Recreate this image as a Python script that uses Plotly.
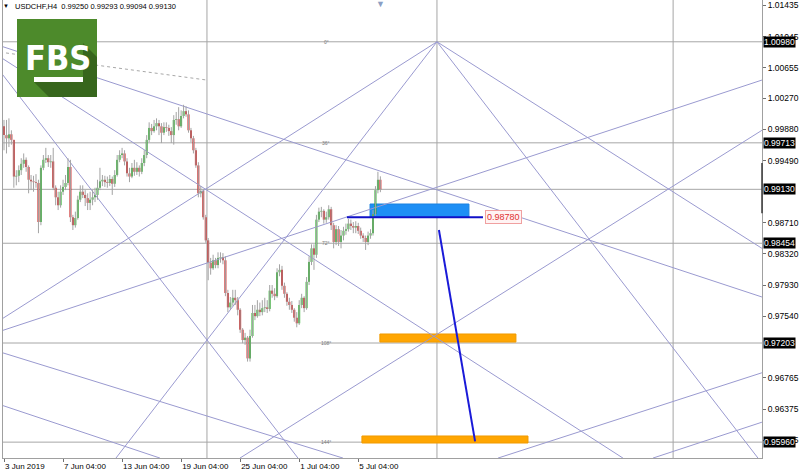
import plotly.graph_objects as go

# ---------------- data ----------------
symbol_title = "USDCHF,H4  0.99250 0.99293 0.99094 0.99130"
first_open = 0.9992
closes = [
    0.9981, 0.9977, 0.9982, 0.9975, 0.9929, 0.9930, 0.9937, 0.9945, 0.9950, 0.9941,
    0.9925, 0.9923, 0.9922, 0.9921, 0.9872, 0.9940, 0.9950, 0.9952, 0.9947, 0.9948,
    0.9915, 0.9903, 0.9893, 0.9910, 0.9916, 0.9921, 0.9941, 0.9878, 0.9868, 0.9877,
    0.9900, 0.9910, 0.9906, 0.9902, 0.9896, 0.9900, 0.9903, 0.9906, 0.9915, 0.9923,
    0.9925, 0.9922, 0.9921, 0.9926, 0.9920, 0.9931, 0.9950, 0.9956, 0.9958, 0.9948,
    0.9933, 0.9929, 0.9940, 0.9935, 0.9940, 0.9935, 0.9946, 0.9956, 0.9975, 0.9990,
    0.9986, 0.9992, 0.9996, 0.9992, 0.9984, 0.9991, 0.9990, 0.9986, 0.9981, 1.0000,
    1.0001, 0.9992, 1.0005, 1.0011, 1.0007, 0.9987, 0.9977, 0.9962, 0.9943, 0.9908,
    0.9911, 0.9878, 0.9849, 0.9821, 0.9814, 0.9824, 0.9818, 0.9827, 0.9828, 0.9824,
    0.9783, 0.9765, 0.9771, 0.9777, 0.9774, 0.9762, 0.9737, 0.9724, 0.9727, 0.9701,
    0.9729, 0.9758, 0.9754, 0.9762, 0.9759, 0.9764, 0.9765, 0.9763, 0.9786, 0.9782,
    0.9779, 0.9809, 0.9812, 0.9792, 0.9782, 0.9772, 0.9768, 0.9762, 0.9752, 0.9745,
    0.9768, 0.9777, 0.9764, 0.9797, 0.9822, 0.9839, 0.9831, 0.9875, 0.9885, 0.9886,
    0.9875, 0.9878, 0.9888, 0.9868, 0.9847, 0.9863, 0.9847, 0.9855, 0.9861, 0.9863,
    0.9870, 0.9867, 0.9865, 0.9867, 0.9861, 0.9855, 0.9852, 0.9847, 0.9855, 0.9858,
    0.9882, 0.9912, 0.9925, 0.99130,
]
highs = [
    1.0000, 1.0000, 1.0002, 0.9987, 0.9975, 0.9937, 0.9943, 0.9952, 0.9958, 0.9953,
    0.9943, 0.9931, 0.9930, 0.9932, 0.9925, 0.9943, 0.9956, 0.9965, 0.9956, 0.9956,
    0.9965, 0.9918, 0.9910, 0.9918, 0.9925, 0.9931, 0.9952, 0.9950, 0.9881, 0.9885,
    0.9905, 0.9918, 0.9918, 0.9912, 0.9908, 0.9910, 0.9912, 0.9915, 0.9925, 0.9940,
    0.9931, 0.9930, 0.9929, 0.9931, 0.9929, 0.9937, 0.9956, 0.9962, 0.9965, 0.9962,
    0.9952, 0.9940, 0.9946, 0.9950, 0.9947, 0.9943, 0.9952, 0.9962, 0.9981, 0.9997,
    0.9995, 1.0000, 1.0002, 1.0000, 0.9996, 0.9997, 0.9997, 0.9994, 0.9991, 1.0006,
    1.0010, 1.0016, 1.0012, 1.0019, 1.0017, 1.0012, 0.9990, 0.9980, 0.9965, 0.9947,
    0.9917, 0.9913, 0.9881, 0.9852, 0.9827, 0.9831, 0.9827, 0.9834, 0.9834, 0.9833,
    0.9829, 0.9787, 0.9778, 0.9787, 0.9787, 0.9778, 0.9764, 0.9739, 0.9733, 0.9729,
    0.9737, 0.9768, 0.9768, 0.9774, 0.9771, 0.9774, 0.9777, 0.9774, 0.9793, 0.9793,
    0.9789, 0.9814, 0.9819, 0.9817, 0.9796, 0.9784, 0.9777, 0.9773, 0.9764, 0.9759,
    0.9774, 0.9782, 0.9779, 0.9803, 0.9829, 0.9844, 0.9844, 0.9881, 0.9890, 0.9891,
    0.9888, 0.9885, 0.9893, 0.9891, 0.9871, 0.9868, 0.9867, 0.9862, 0.9866, 0.9870,
    0.9876, 0.9875, 0.9872, 0.9873, 0.9871, 0.9865, 0.9858, 0.9855, 0.9860, 0.9863,
    0.9887, 0.9917, 0.9935, 0.99293,
]
lows = [
    0.9962, 0.9958, 0.9966, 0.9969, 0.9915, 0.9918, 0.9922, 0.9931, 0.9940, 0.9935,
    0.9908, 0.9912, 0.9910, 0.9915, 0.9858, 0.9868, 0.9937, 0.9946, 0.9941, 0.9940,
    0.9912, 0.9893, 0.9887, 0.9890, 0.9906, 0.9912, 0.9918, 0.9872, 0.9862, 0.9865,
    0.9875, 0.9897, 0.9902, 0.9892, 0.9887, 0.9887, 0.9893, 0.9897, 0.9900, 0.9912,
    0.9917, 0.9916, 0.9915, 0.9917, 0.9906, 0.9916, 0.9929, 0.9947, 0.9952, 0.9943,
    0.9929, 0.9922, 0.9927, 0.9930, 0.9931, 0.9929, 0.9932, 0.9942, 0.9952, 0.9972,
    0.9981, 0.9984, 0.9987, 0.9981, 0.9971, 0.9981, 0.9985, 0.9980, 0.9971, 0.9969,
    0.9994, 0.9987, 0.9990, 1.0002, 1.0004, 0.9984, 0.9972, 0.9958, 0.9940, 0.9903,
    0.9903, 0.9875, 0.9846, 0.9799, 0.9806, 0.9812, 0.9814, 0.9814, 0.9821, 0.9819,
    0.9779, 0.9759, 0.9762, 0.9767, 0.9768, 0.9755, 0.9733, 0.9720, 0.9718, 0.9697,
    0.9697, 0.9727, 0.9749, 0.9752, 0.9754, 0.9755, 0.9759, 0.9758, 0.9760, 0.9777,
    0.9774, 0.9777, 0.9804, 0.9787, 0.9777, 0.9767, 0.9762, 0.9758, 0.9747, 0.9740,
    0.9743, 0.9764, 0.9759, 0.9762, 0.9793, 0.9818, 0.9812, 0.9827, 0.9872, 0.9878,
    0.9870, 0.9871, 0.9875, 0.9862, 0.9839, 0.9843, 0.9842, 0.9839, 0.9849, 0.9856,
    0.9860, 0.9862, 0.9858, 0.9858, 0.9857, 0.9851, 0.9847, 0.9837, 0.9843, 0.9851,
    0.9855, 0.9880, 0.9908, 0.99094,
]

tick_bars = [0, 24, 48, 72, 96, 120, 144]
tick_text = ["3 Jun 2019", "7 Jun 04:00", "13 Jun 04:00", "19 Jun 04:00",
             "25 Jun 04:00", "1 Jul 04:00", "5 Jul 04:00"]

price_ticks = [1.01435, 1.01045, 1.00655, 1.00270, 0.99880, 0.99490,
               0.98710, 0.98320, 0.97930, 0.97540, 0.96765, 0.96375, 0.95985]

level_prices = [1.00980, 0.99713, 0.99130, 0.98454, 0.97203, 0.95960]
angle_labels = ["0°", "36°", "72°", "108°", "144°"]
angle_prices = [1.00980, 0.99713, 0.98454, 0.97203, 0.95960]
angle_bar = 131
vertical_bars = [82.5, 176, 272]

# Gann-style lines, endpoints in (bar, price)
fan_x0 = [176, 176, 176, 176, -1.6, 95.9, -1.6, -1.6, -1.6, -1.6, -1.6, 200.8, 263.8]
fan_y0 = [1.0098, 1.0098, 1.0098, 1.0098, 1.0079, 0.9576, 1.0093, 0.9735, 1.0061, 0.9709, 0.9643, 0.9576, 0.9576]
fan_x1 = [-1.6, 308.1, 45.5, 306.5, 251.6, 308.1, 308.1, 308.1, 119.5, 137.8, 63.4, 308.1, 308.1]
fan_y1 = [0.9749, 0.9839, 0.9576, 0.9576, 0.9576, 0.9987, 0.9778, 1.0050, 0.9576, 0.9576, 0.9576, 0.9683, 0.9621]

dotted_x = [-1.6, 82.5]
dotted_y = [1.0085, 1.0050]

blue_zone = [148.8, 189.0, 0.98783, 0.98946]
orange_zones = [[152.8, 208.1, 0.97215, 0.97316], [145.5, 213.0, 0.95949, 0.96037]]
target_price = 0.98780
target_x = [139.4, 194.7]
target_label_bar = 195.5
projection_x = [176.8, 191.5]
projection_y = [0.9862, 0.9597]

# ---------------- figure ----------------
n = len(closes)
bars_idx = list(range(n))
opens = [first_open] + closes[:-1]

X_RANGE = [-0.41, 308.13]
Y_RANGE = [0.95761, 1.01504]

def pp(xpx, ypx):
    return (xpx - 3) / 759.0, 1 - ypx / 458.0

fig = go.Figure()

# fan lines
fx, fy = [], []
for a, b, c, d in zip(fan_x0, fan_y0, fan_x1, fan_y1):
    fx += [a, c, None]
    fy += [b, d, None]
fig.add_trace(go.Scatter(x=fx, y=fy, mode="lines", line=dict(color="#9a9ad0", width=1),
                         hoverinfo="skip"))
fig.add_trace(go.Scatter(x=dotted_x, y=dotted_y, mode="lines",
                         line=dict(color="#a8a8a8", width=1, dash="dot"), hoverinfo="skip"))

# wicks
wx, wy = [], []
for i in bars_idx:
    lo = min(lows[i], opens[i], closes[i])
    hi = max(highs[i], opens[i], closes[i])
    wx += [i, i, None]
    wy += [lo, hi, None]
fig.add_trace(go.Scatter(x=wx, y=wy, mode="lines", line=dict(color="#a3a3a3", width=1),
                         hoverinfo="skip"))

# bodies
base = [min(o, c) for o, c in zip(opens, closes)]
height = [abs(c - o) for o, c in zip(opens, closes)]
cols = ["#27b327" if c >= o else "#d11a1a" for o, c in zip(opens, closes)]
fig.add_trace(go.Bar(x=bars_idx, y=height, base=base, width=0.8,
                     marker=dict(color=cols, line=dict(width=0)), hoverinfo="skip"))

# target and projection lines
fig.add_trace(go.Scatter(x=target_x, y=[target_price, target_price], mode="lines",
                         line=dict(color="#1010c8", width=2), hoverinfo="skip"))
fig.add_trace(go.Scatter(x=projection_x, y=projection_y, mode="lines",
                         line=dict(color="#1a1ad8", width=2), hoverinfo="skip"))

shapes = []
for p in level_prices:
    shapes.append(dict(type="line", xref="paper", yref="y", x0=0, x1=1, y0=p, y1=p,
                       line=dict(color="#a6a6a6", width=1), layer="below"))
for b in vertical_bars:
    shapes.append(dict(type="line", xref="x", yref="paper", x0=b, x1=b, y0=0, y1=1,
                       line=dict(color="#a6a6a6", width=1), layer="below"))
shapes.append(dict(type="rect", xref="x", yref="y", x0=blue_zone[0], x1=blue_zone[1],
                   y0=blue_zone[2], y1=blue_zone[3], fillcolor="#1e8ff5",
                   line=dict(color="#1a82e0", width=1), layer="below"))
for z in orange_zones:
    shapes.append(dict(type="rect", xref="x", yref="y", x0=z[0], x1=z[1], y0=z[2], y1=z[3],
                       fillcolor="#ffa602", line=dict(color="#f09a00", width=1), layer="below"))
# dark part of price scale
shapes.append(dict(type="line", xref="paper", yref="y", x0=1, x1=1, y0=0.9946, y1=0.9883,
                   line=dict(color="#3a3a3a", width=1.5)))

# FBS logo
lx0, ly0 = pp(17, 97)
lx1, ly1 = pp(97, 19)
shapes.append(dict(type="rect", xref="paper", yref="paper", x0=lx0, x1=lx1, y0=ly0, y1=ly1,
                   fillcolor="#4d8a2b", line=dict(width=0), layer="above"))
poly = [pp(34, 82), pp(49, 97), pp(97, 97), pp(97, 57), pp(83, 43), pp(83, 82)]
path = "M " + " L ".join(f"{a:.5f},{b:.5f}" for a, b in poly) + " Z"
shapes.append(dict(type="path", xref="paper", yref="paper", path=path,
                   fillcolor="#37661d", line=dict(width=0), layer="above"))
ux0, uy0 = pp(34, 82)
ux1, uy1 = pp(83, 77)
shapes.append(dict(type="rect", xref="paper", yref="paper", x0=ux0, x1=ux1, y0=uy0, y1=uy1,
                   fillcolor="white", line=dict(width=0), layer="above"))

annotations = []
fx_, fy_ = pp(58, 58)
annotations.append(dict(xref="paper", yref="paper", x=fx_, y=fy_, text="<b>FBS</b>",
                        showarrow=False, xanchor="center", yanchor="middle",
                        font=dict(family="Liberation Sans Narrow, DejaVu Sans Condensed, Arial Narrow, sans-serif",
                                  size=34, color="white")))
# title
tx, ty = pp(13, 7)
annotations.append(dict(xref="paper", yref="paper", x=tx, y=ty, text=symbol_title,
                        showarrow=False, xanchor="left", yanchor="middle",
                        font=dict(size=7.5, color="black")))
tx2, ty2 = pp(6, 6)
annotations.append(dict(xref="paper", yref="paper", x=tx2, y=ty2, text="▼",
                        showarrow=False, xanchor="center", yanchor="middle",
                        font=dict(size=6, color="black")))
sx, sy = pp(380, 4)
annotations.append(dict(xref="paper", yref="paper", x=sx, y=sy, text="▼",
                        showarrow=False, xanchor="center", yanchor="middle",
                        font=dict(size=9, color="#8b9fc4")))
# highlighted price labels
for p in level_prices:
    annotations.append(dict(xref="paper", yref="y", x=1, y=p, text=f"{p:.5f}",
                            showarrow=False, xanchor="left", yanchor="middle", xshift=1,
                            bgcolor="black", borderpad=0,
                            font=dict(size=8.5, color="white")))
# angle labels
for t, p in zip(angle_labels, angle_prices):
    annotations.append(dict(xref="x", yref="y", x=angle_bar, y=p, text=t, showarrow=False,
                            xanchor="center", yanchor="middle",
                            font=dict(size=5, color="#7a7a7a")))
# target label
annotations.append(dict(xref="x", yref="y", x=target_label_bar, y=target_price,
                        text=f"{target_price:.5f}", showarrow=False, xanchor="left",
                        yanchor="middle", bgcolor="#fff3f3", bordercolor="#f0a0a0",
                        borderwidth=1, borderpad=1, font=dict(size=9, color="#e03030")))

fig.update_layout(
    width=800, height=472,
    margin=dict(l=3, r=38, t=0, b=14),
    paper_bgcolor="white", plot_bgcolor="white",
    showlegend=False, hovermode=False,
    font=dict(family="Liberation Sans, Arial, sans-serif", size=8, color="black"),
    shapes=shapes, annotations=annotations,
    xaxis=dict(range=X_RANGE, tickmode="array", tickvals=tick_bars, ticktext=tick_text,
               ticklabelposition="outside right", ticks="outside", ticklen=3,
               tickcolor="#707070", showline=True, linecolor="#a0a0a0", mirror=True,
               showgrid=False, zeroline=False, tickfont=dict(size=8, color="black")),
    yaxis=dict(range=Y_RANGE, side="right", tickmode="array", tickvals=price_ticks,
               ticktext=[f"{p:.5f}" for p in price_ticks], ticks="outside", ticklen=3,
               tickcolor="#707070", showline=True, linecolor="#a0a0a0", mirror=True,
               showgrid=False, zeroline=False, tickfont=dict(size=8.5, color="black")),
)

fig.write_html("out.html", config={"displayModeBar": False, "staticPlot": True},
               post_script="document.body.style.margin='0';document.body.style.overflow='hidden';")
